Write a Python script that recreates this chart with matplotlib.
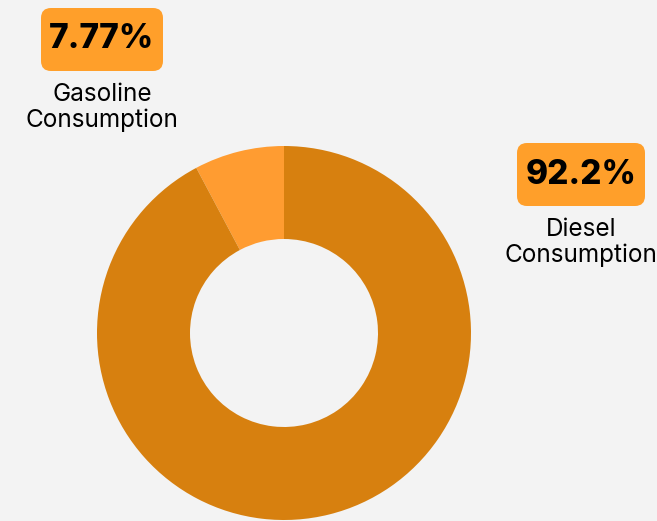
#!/usr/bin/env python3

import matplotlib.pyplot as plt
from matplotlib.patches import FancyBboxPatch

# ======================================================================
# Data.
# ======================================================================

labels = ['Gasoline\nConsumption', 'Diesel\nConsumption']
shares = [7.77, 92.2]
pct_text = ['7.77%', '92.2%']
colors = ['#ff9c31', '#d7800f']

W, H = 657, 521
bg = '#f3f3f3'

# ======================================================================
# Donut.
# ======================================================================

fig = plt.figure(figsize=(W/100, H/100), dpi=100, facecolor=bg)
ax = fig.add_axes([0, 0, 1, 1])
ax.set_facecolor(bg)

ax.pie(
    shares,
    colors=colors,
    startangle=90,
    counterclock=True,
    center=(284, H-333),
    radius=187,
    wedgeprops=dict(width=93, edgecolor='none'),
    frame=True,
    )
ax.set_xlim(0, W)
ax.set_ylim(0, H)
ax.set_aspect('equal')
ax.axis('off')

# label positions (pixel coords from top), box sizes
pos = [(102, 39.5), (581, 174.5)]
box_w = [122, 128]
box_h = 63
for (x, y), bw, p, lab in zip(pos, box_w, pct_text, labels):
    ax.add_patch(FancyBboxPatch(
        (x-bw/2+10, H-y-box_h/2+10), bw-20, box_h-20,
        boxstyle='round,pad=10', fc='#ff9f2a', ec='none',
        ))
    ax.text(
        x, H-y, p,
        ha='center', va='center',
        fontsize=24, fontweight='heavy', family='Inter', color='black',
        )
    ax.text(
        x, H-y-68, lab,
        ha='center', va='center', linespacing=1.15,
        fontsize=17.5, family='Inter', color='black',
        )

fig.savefig('out.png', dpi=100, facecolor=bg)
